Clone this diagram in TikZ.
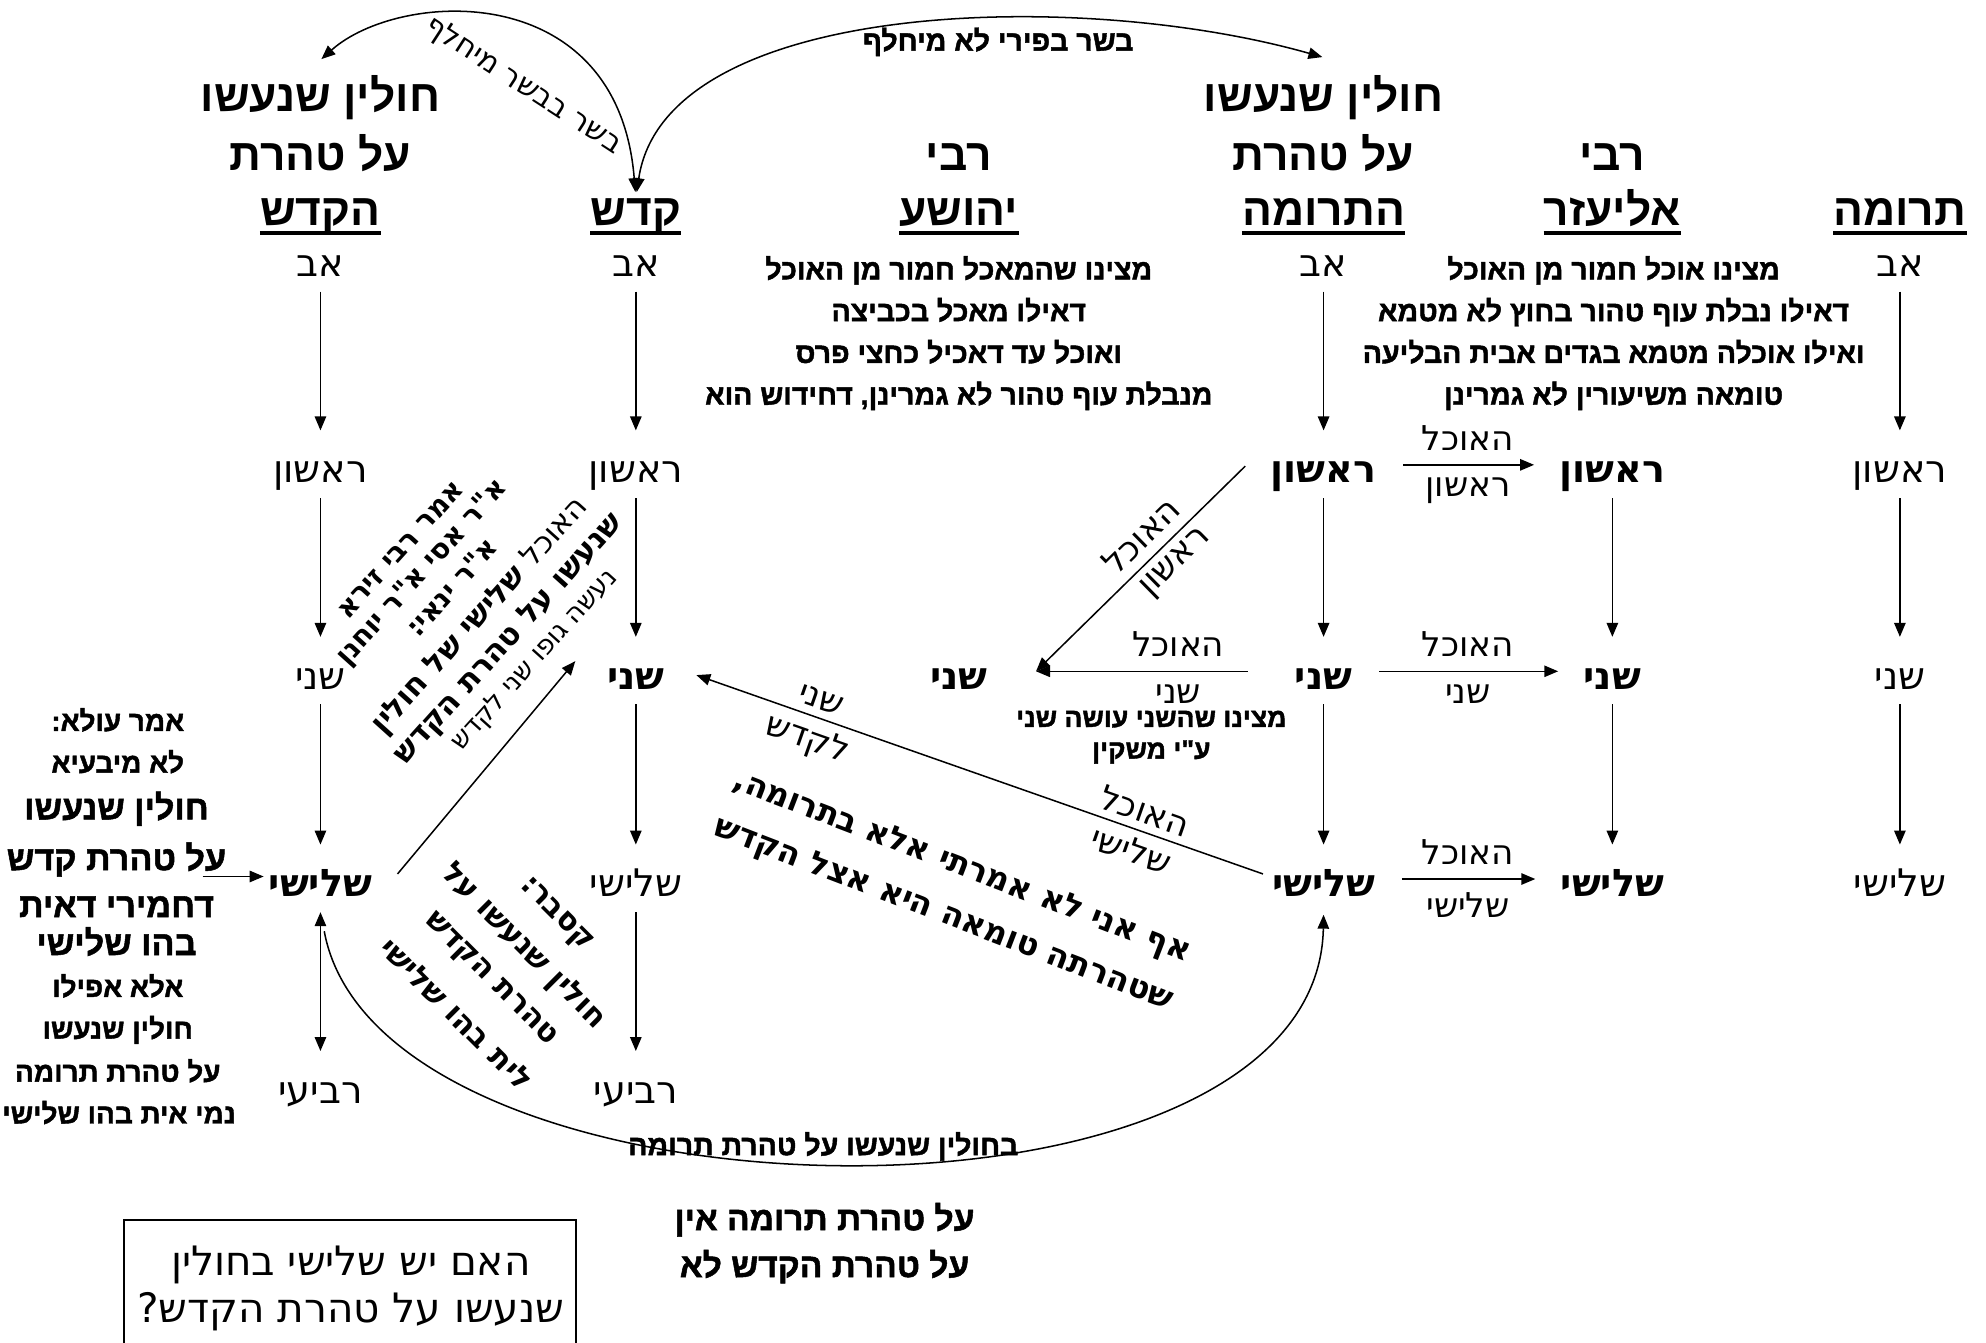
\documentclass[tikz,border=0pt]{standalone}
\usepackage{fontspec}
\usetikzlibrary{arrows.meta}
\TeXXeTstate=1
\newfontfamily\hr[Script=Hebrew]{DejaVu Sans}
\newfontfamily\ha[Script=Hebrew]{Liberation Sans}
\newfontfamily\hab[Script=Hebrew,FakeBold=1.5]{Liberation Sans Bold}
\newcommand\hebl[1]{\beginR#1\endR}
\begin{document}
\begin{tikzpicture}[x=1pt,y=-1pt,
  lvl/.style={font=\hr\fontsize{30}{36}\selectfont,inner sep=0pt,text height=22pt,text depth=6pt,anchor=base},
  lvlb/.style={lvl,font=\hr\bfseries\fontsize{30}{36}\selectfont},
  hdr/.style={font=\ha\bfseries\fontsize{35}{40}\selectfont,inner sep=0pt,anchor=base},
  ul/.style={line width=3pt},
  lab/.style={font=\hr\fontsize{27}{30}\selectfont,inner sep=0pt},
  >={Triangle[length=11pt,width=9pt]},
  arr/.style={->,line width=1.2pt},
  darr/.style={<->,line width=1.2pt},
  vs/.style={shorten <=6pt,shorten >=19pt},
  hs/.style={shorten <=21pt,shorten >=20pt},
  blk/.style={font=\hab\fontsize{22.5}{33}\selectfont,align=center,inner sep=0pt},
  lsm/.style={font=\hab\fontsize{22}{24}\selectfont,inner sep=0pt,anchor=base},
  llg/.style={font=\hab\fontsize{27}{30}\selectfont,inner sep=0pt,anchor=base},
  rsm/.style={font=\hr\bfseries\fontsize{22}{24}\selectfont,inner sep=0pt},
  rlg/.style={font=\hr\bfseries\fontsize{24}{28}\selectfont,inner sep=0pt},
  rxl/.style={font=\hr\bfseries\fontsize{25.5}{28}\selectfont,inner sep=0pt},
  rrg/.style={font=\hr\fontsize{21}{24}\selectfont,inner sep=0pt},
]
\useasboundingbox[fill=white] (0,0) rectangle (1568,1060);

% headers
\node[hdr] (hA1) at (253,88) {\hebl{חולין שנעשו}};
\node[hdr] (hA2) at (253,135) {\hebl{על טהרת}};
\node[hdr] (hA3) at (253,178) {\hebl{הקדש}};
\node[hdr] (hB3) at (502,178) {\hebl{קדש}};
\node[hdr] (hC2) at (757,135) {\hebl{רבי}};
\node[hdr] (hC3) at (757,178) {\hebl{יהושע}};
\node[hdr] (hD1) at (1045,88) {\hebl{חולין שנעשו}};
\node[hdr] (hD2) at (1045,135) {\hebl{על טהרת}};
\node[hdr] (hD3) at (1045,178) {\hebl{התרומה}};
\node[hdr] (hE2) at (1273,135) {\hebl{רבי}};
\node[hdr] (hE3) at (1273,178) {\hebl{אליעזר}};
\node[hdr] (hF3) at (1500,178) {\hebl{תרומה}};
\foreach \n in {hA3,hB3,hC3,hD3,hE3,hF3}
  \draw[ul] ([yshift=-6pt]\n.base west) -- ([yshift=-6pt]\n.base east);

% top arcs
\draw[darr,shorten <=1pt,shorten >=5pt] ([yshift=12pt]hA1.north) .. controls (315,-8) and (488,-18) .. (hB3.north);
\draw[darr,shorten <=5pt,shorten >=1pt] (hB3.north) .. controls (525,0) and (850,-10) .. ([yshift=14pt]hD1.north);
\node[font=\hab\fontsize{22.5}{24}\selectfont,inner sep=0pt] (lbl1) at (788,33) {\hebl{בשר בפירי לא מיחלף}};
\node[font=\hr\fontsize{23.5}{24}\selectfont,inner sep=0pt,rotate=-33] (lbl2) at (413,68) {\hebl{בשר בבשר מיחלף}};

% text blocks
\node[blk] (cblk) at (757,263) {\hebl{מצינו שהמאכל חמור מן האוכל}\\ \hebl{דאילו מאכל בכביצה}\\ \hebl{ואוכל עד דאכיל כחצי פרס}\\ \hebl{מנבלת עוף טהור לא גמרינן, דחידוש הוא}};
\node[blk] (eblk) at (1274,263) {\hebl{מצינו אוכל חמור מן האוכל}\\ \hebl{דאילו נבלת עוף טהור בחוץ לא מטמא}\\ \hebl{ואילו אוכלה מטמא בגדים אבית הבליעה}\\ \hebl{טומאה משיעורין לא גמרינן}};
\node[blk,font=\hab\fontsize{21}{25}\selectfont] (mblk) at (909,582) {\hebl{מצינו שהשני עושה שני}\\ \hebl{ע"י משקין}};

% level nodes
\node[lvl] (A0) at (253,218) {\hebl{אב}};
\node[lvl] (A1) at (253,381) {\hebl{ראשון}};
\node[lvl] (A2) at (253,544) {\hebl{שני}};
\node[lvlb] (A3) at (253,708) {\hebl{שלישי}};
\node[lvl] (A4) at (253,871) {\hebl{רביעי}};
\node[lvl] (B0) at (502,218) {\hebl{אב}};
\node[lvl] (B1) at (502,381) {\hebl{ראשון}};
\node[lvlb] (B2) at (502,544) {\hebl{שני}};
\node[lvl] (B3) at (502,708) {\hebl{שלישי}};
\node[lvl] (B4) at (502,871) {\hebl{רביעי}};
\node[lvlb] (C2) at (757,544) {\hebl{שני}};
\node[lvl] (D0) at (1045,218) {\hebl{אב}};
\node[lvlb] (D1) at (1045,381) {\hebl{ראשון}};
\node[lvlb] (D2) at (1045,544) {\hebl{שני}};
\node[lvlb] (D3) at (1045,708) {\hebl{שלישי}};
\node[lvlb] (E1) at (1273,381) {\hebl{ראשון}};
\node[lvlb] (E2) at (1273,544) {\hebl{שני}};
\node[lvlb] (E3) at (1273,708) {\hebl{שלישי}};
\node[lvl] (F0) at (1500,218) {\hebl{אב}};
\node[lvl] (F1) at (1500,381) {\hebl{ראשון}};
\node[lvl] (F2) at (1500,544) {\hebl{שני}};
\node[lvl] (F3) at (1500,708) {\hebl{שלישי}};

\foreach \a/\b in {A0/A1,A1/A2,A2/A3,B0/B1,B1/B2,B2/B3,B3/B4,D0/D1,D1/D2,D2/D3,E1/E2,E2/E3,F0/F1,F1/F2,F2/F3}
  \draw[arr,vs] (\a) -- (\b);
\draw[darr,shorten <=6pt,shorten >=19pt] (A3) -- (A4);

% D -> E
\draw[arr,hs] ([yshift=6pt]D1.east) -- ([yshift=6pt]E1.west)
  node[lab,midway,above=11pt] (de1a) {\hebl{האוכל}} node[lab,midway,below=10pt] (de1b) {\hebl{ראשון}};
\draw[arr,hs] ([yshift=6pt]D2.east) -- ([yshift=6pt]E2.west)
  node[lab,midway,above=11pt] (de2a) {\hebl{האוכל}} node[lab,midway,below=10pt] (de2b) {\hebl{שני}};
\draw[arr,hs] ([yshift=6pt]D3.east) -- ([yshift=6pt]E3.west)
  node[lab,midway,above=11pt] (de3a) {\hebl{האוכל}} node[lab,midway,below=10pt] (de3b) {\hebl{שלישי}};

% D -> C
\coordinate (Cin) at (818,530);
\draw[arr,shorten <=37pt] ([yshift=6pt]D2.west) -- (Cin)
  node[lab,pos=0.45,above=11pt] (dc2a) {\hebl{האוכל}} node[lab,pos=0.45,below=10pt] (dc2b) {\hebl{שני}};
\draw[arr] ([xshift=-20pt,yshift=5pt]D1.west) -- (Cin)
  node[lab,sloped,pos=0.42,above=8pt] (dc1a) {\hebl{האוכל}} node[lab,sloped,pos=0.4,below=6pt] (dc1b) {\hebl{ראשון}};

% D3 -> B2
\draw[arr] ([xshift=-7pt,yshift=10pt]D3.west) -- ([xshift=25pt,yshift=3pt]B2.east)
  node[lab,sloped,pos=0.22,above=6pt] (db1) {\hebl{האוכל}}
  node[lab,sloped,pos=0.22,below=6pt] (db2) {\hebl{שלישי}}
  node[lab,sloped,pos=0.79,above=6pt] (db3) {\hebl{שני}}
  node[lab,sloped,pos=0.79,below=6pt] (db4) {\hebl{לקדש}};

% A3 -> B2
\draw[arr] ([xshift=20pt,yshift=10pt]A3.east) -- ([xshift=-25pt,yshift=14pt]B2.west);

% big curve
\draw[arr] ([xshift=3pt,yshift=-21pt]A3.south) .. controls (300,975) and (1040,990) .. ([yshift=-8pt]D3.south);
\node[font=\hab\fontsize{22.5}{24}\selectfont,inner sep=0pt] (cv1) at (650,905) {\hebl{בחולין שנעשו על טהרת תרומה}};
\node[font=\hab\fontsize{26.5}{28}\selectfont,inner sep=0pt] (cv2) at (651,963) {\hebl{על טהרת תרומה אין}};
\node[font=\hab\fontsize{26.5}{28}\selectfont,inner sep=0pt] (cv3) at (651,1000) {\hebl{על טהרת הקדש לא}};

% left block
\node[lsm] (L1) at (93,577) {\hebl{אמר עולא:}};
\node[lsm] (L2) at (93,610) {\hebl{לא מיבעיא}};
\node[llg] (L3) at (92,647) {\hebl{חולין שנעשו}};
\node[llg] (L4) at (92,687) {\hebl{על טהרת קדש}};
\node[llg] (L5) at (92,724) {\hebl{דחמירי דאית}};
\node[llg] (L6) at (92,754) {\hebl{בהו שלישי}};
\node[lsm] (L7) at (93,787) {\hebl{אלא אפילו}};
\node[lsm] (L8) at (93,820) {\hebl{חולין שנעשו}};
\node[lsm] (L9) at (93,854) {\hebl{על טהרת תרומה}};
\node[lsm] (L10) at (94,887) {\hebl{נמי אית בהו שלישי}};
\coordinate (Lout) at (160,692);
\draw[arr] (Lout) -- ([xshift=-4pt,yshift=8pt]A3.west);

% rotated block 1
\begin{scope}[shift={(360,480)},rotate=48,transform shape]
  \node[rsm] (R1) at (5,-63) {\hebl{אמר רבי זירא}};
  \node[rsm] (R2) at (3,-38) {\hebl{א"ר אסי א"ר יוחנן}};
  \node[rsm] (R3) at (10,-14) {\hebl{א"ר ינאי:}};
  \node[rlg] (R4) at (8,19) {\hebl{{\mdseries האוכל} שלישי של חולין}};
  \node[rlg] (R5) at (10,48) {\hebl{שנעשו על טהרת הקדש}};
  \node[rrg] (R6) at (11,74) {\hebl{נעשה גופו שני לקדש}};
\end{scope}

% rotated block 2
\begin{scope}[shift={(399.5,761.5)},rotate=-45,transform shape]
  \node[rlg] (Q1) at (0,-55) {\hebl{קסבר:}};
  \node[rlg] (Q2) at (0,-19) {\hebl{חולין שנעשו על}};
  \node[rlg] (Q3) at (0,18) {\hebl{טהרת הקדש}};
  \node[rlg] (Q4) at (0,55) {\hebl{לית בהו שלישי}};
\end{scope}

% rotated block 3
\begin{scope}[shift={(752,704)},rotate=-21,transform shape]
  \node[rxl] (S1) at (0,-20) {\hebl{אף אני לא אמרתי אלא בתרומה,}};
  \node[rxl] (S2) at (0,20) {\hebl{שטהרתה טומאה היא אצל הקדש}};
\end{scope}

% question box
\node[draw,line width=1.3pt,minimum width=357pt,minimum height=99pt,inner sep=0pt] (box) at (276.5,1012.5) {};
\node[align=center,inner sep=0pt,font=\hr\fontsize{32}{37}\selectfont] (boxt) at (277,1017)
  {\hebl{האם יש שלישי בחולין}\\ \hebl{שנעשו על טהרת הקדש?}};
\end{tikzpicture}
\end{document}
